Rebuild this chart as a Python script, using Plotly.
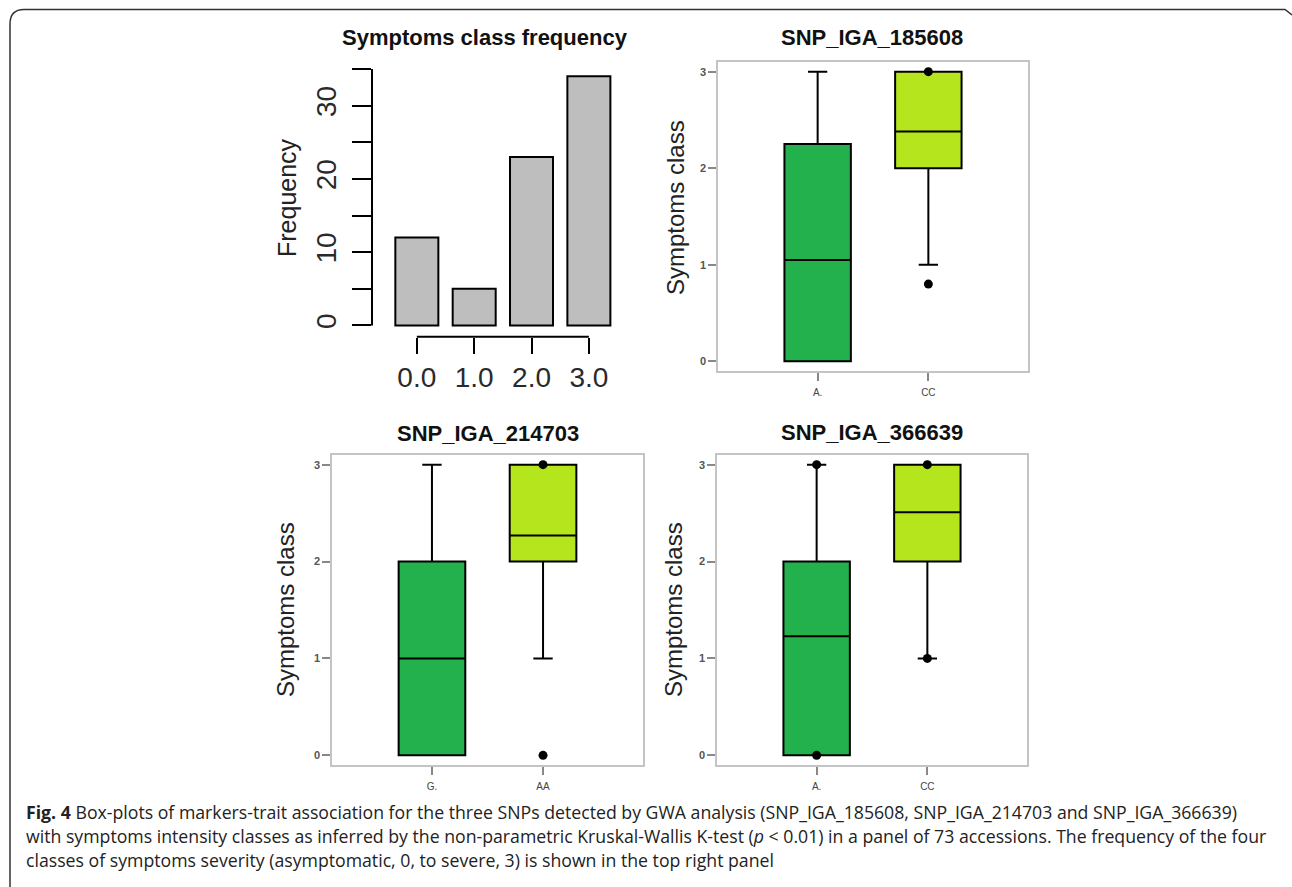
import plotly.graph_objects as go

W, H = 1292, 887

# ---------------- data ----------------
hist_classes = [0, 1, 2, 3]
hist_labels = ["0.0", "1.0", "2.0", "3.0"]
hist_freq = [12, 5, 23, 34]
hist_yticks = [0, 5, 10, 15, 20, 25, 30, 35]
hist_yticktext = ["0", "", "10", "", "20", "", "30", ""]

snp_names = ["SNP_IGA_185608", "SNP_IGA_214703", "SNP_IGA_366639"]
genotypes = [["A.", "CC"], ["G.", "AA"], ["A.", "CC"]]
box_q1 = [[0, 2], [0, 2], [0, 2]]
box_median = [[1.05, 2.38], [1.0, 2.27], [1.23, 2.51]]
box_q3 = [[2.25, 3], [2, 3], [2, 3]]
box_lower = [[0, 1], [0, 1], [0, 1]]
box_upper = [[3, 3], [3, 3], [3, 3]]
box_outliers = [[[], [3, 0.8]], [[], [3, 0]], [[3, 0], [3, 1]]]
box_colors = ["#22b14c", "#b5e61d"]
symptom_ticks = [0, 1, 2, 3]

caption_lines = [
    "<b>Fig. 4</b> Box-plots of markers-trait association for the three SNPs detected by GWA analysis (SNP_IGA_185608, SNP_IGA_214703 and SNP_IGA_366639)",
    "with symptoms intensity classes as inferred by the non-parametric Kruskal-Wallis K-test (<i>p</i> &lt; 0.01) in a panel of 73 accessions. The frequency of the four",
    "classes of symptoms severity (asymptomatic, 0, to severe, 3) is shown in the top right panel",
]

# ---------------- helpers ----------------
def xd(a, b):
    return [a / W, b / W]

def yd(top, bottom):
    return [1 - bottom / H, 1 - top / H]

def px(x):
    return x / W

def py(y):
    return 1 - y / H

FONT = "Liberation Sans, Arial, sans-serif"

fig = go.Figure()

# ---------------- histogram ----------------
fig.add_trace(go.Bar(
    x=hist_classes, y=hist_freq, width=0.75,
    marker=dict(color="#bebebe", line=dict(color="black", width=2)),
    xaxis="x", yaxis="y", showlegend=False, hoverinfo="skip",
))

# ---------------- box panels ----------------
panel_axes = [("x2", "y2"), ("x3", "y3"), ("x4", "y4")]
for p, (xa, ya) in enumerate(panel_axes):
    for g in range(2):
        fig.add_trace(go.Box(
            x=[g + 1], q1=[box_q1[p][g]], median=[box_median[p][g]],
            q3=[box_q3[p][g]], lowerfence=[box_lower[p][g]],
            upperfence=[box_upper[p][g]],
            width=0.6, whiskerwidth=0.29,
            fillcolor=box_colors[g], line=dict(color="black", width=2),
            boxpoints=False, xaxis=xa, yaxis=ya, showlegend=False,
            hoverinfo="skip",
        ))
        pts = box_outliers[p][g]
        if pts:
            fig.add_trace(go.Scatter(
                x=[g + 1] * len(pts), y=pts, mode="markers",
                marker=dict(color="black", size=9),
                xaxis=xa, yaxis=ya, showlegend=False, hoverinfo="skip",
            ))

# ---------------- layout ----------------
layout = dict(
    width=W, height=H, margin=dict(l=0, r=0, t=0, b=0),
    paper_bgcolor="white", plot_bgcolor="rgba(0,0,0,0)",
    font=dict(family=FONT, color="#222"),
    showlegend=False,
)

layout["xaxis"] = dict(
    domain=xd(372, 625), anchor="y", range=[-0.782, 3.63],
    tickvals=hist_classes, ticktext=hist_labels, showline=False,
    showgrid=False, zeroline=False, ticks="outside", ticklen=16,
    tickwidth=2, tickcolor="black",
    tickfont=dict(size=28, color="#2a2a2a", family=FONT),
)
layout["yaxis"] = dict(
    domain=yd(68, 336.7), anchor="x", range=[-1.53, 35.14],
    tickvals=hist_yticks, ticktext=hist_yticktext, tickangle=-90,
    showline=False, showgrid=False, zeroline=False, ticks="outside",
    ticklen=19, tickwidth=2, tickcolor="black",
    tickfont=dict(size=28, color="#2a2a2a", family=FONT),
    ticklabelstandoff=5,
)

box_domains = [
    (xd(718, 1028), yd(62, 371)),
    (xd(332, 643), yd(455, 765)),
    (xd(717, 1027), yd(455, 765)),
]
for p, (dx, dy) in enumerate(box_domains):
    n = p + 2
    layout[f"xaxis{n}"] = dict(
        domain=dx, anchor=f"y{n}", range=[0.1, 2.9],
        tickvals=[1, 2], ticktext=genotypes[p],
        showline=True, mirror=True, linecolor="#c4c4c4", linewidth=1.5,
        showgrid=False, zeroline=False, ticks="outside", ticklen=8,
        tickwidth=1.5, tickcolor="#888",
        tickfont=dict(size=10, color="#444", family=FONT),
        ticklabelstandoff=3,
    )
    layout[f"yaxis{n}"] = dict(
        domain=dy, anchor=f"x{n}", range=[-0.1, 3.1],
        tickvals=symptom_ticks,
        showline=True, mirror=True, linecolor="#c4c4c4", linewidth=1.5,
        showgrid=False, zeroline=False, ticks="outside", ticklen=8,
        tickwidth=1.5, tickcolor="#888",
        tickfont=dict(size=11, color="#555", family=FONT, weight="bold"),
    )

fig.update_layout(**layout)

# axis lines of the histogram (R style, spanning only the tick range)
fig.add_shape(type="line", xref="x domain", yref="y", x0=0, x1=0,
              y0=hist_yticks[0], y1=hist_yticks[-1],
              line=dict(color="black", width=2))
fig.add_shape(type="line", xref="x", yref="y domain",
              x0=hist_classes[0], x1=hist_classes[-1], y0=0, y1=0,
              line=dict(color="black", width=2))

# outer frame (left + top, rounded corner)
frame_path = (f"M {px(10)} {py(887)} L {px(10)} {py(24)} "
              f"Q {px(10)} {py(9.5)} {px(24)} {py(9.5)} "
              f"L {px(1285)} {py(9.5)} L {px(1292)} {py(15)}")
fig.add_shape(type="path", xref="paper", yref="paper", path=frame_path,
              line=dict(color="#333", width=1.5))

ann = []
# titles
ann.append(dict(text="<b>Symptoms class frequency</b>", x=px(485), y=py(37),
                font=dict(size=22, color="#111")))
title_pos = [(872, 37), (488, 433), (872, 432)]
for p, (tx, ty) in enumerate(title_pos):
    ann.append(dict(text=f"<b>{snp_names[p]}</b>", x=px(tx), y=py(ty),
                    font=dict(size=22, color="#111")))
# axis titles
ann.append(dict(text="Frequency", x=px(287), y=py(198), textangle=-90,
                font=dict(size=25, color="#222")))
ytitle_pos = [(676, 208), (285, 610), (673, 610)]
for (tx, ty) in ytitle_pos:
    ann.append(dict(text="Symptoms class", x=px(tx), y=py(ty), textangle=-90,
                    font=dict(size=24, color="#222")))
# caption
cap_y = [812, 836, 860]
for line, cy in zip(caption_lines, cap_y):
    ann.append(dict(text=line, x=px(24), y=py(cy), xanchor="left",
                    font=dict(size=17.7, color="#222", family="Open Sans, sans-serif")))

for a in ann:
    a.setdefault("xref", "paper")
    a.setdefault("yref", "paper")
    a.setdefault("showarrow", False)
    a.setdefault("xanchor", "center")
    a.setdefault("yanchor", "middle")
fig.update_layout(annotations=ann)

fig.write_html("out.html", config={"displayModeBar": False},
               post_script="document.body.style.margin='0';")
